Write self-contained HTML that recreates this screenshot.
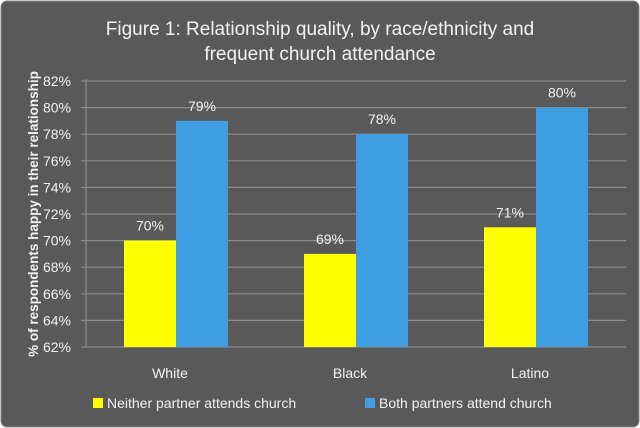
<!DOCTYPE html>
<html><head><meta charset="utf-8"><style>
body{margin:0;background:#fff;}
svg{display:block;font-family:"Liberation Sans",sans-serif;}
</style></head><body>
<svg id="chart" width="640" height="428">
<rect x="1" y="1" width="638" height="426" rx="6" fill="#595959" stroke="#8a8a8a"/>
<text x="320" y="35" text-anchor="middle" font-size="19" fill="#f2f2f2">Figure 1: Relationship quality, by race/ethnicity and</text>
<text x="320" y="60" text-anchor="middle" font-size="19" fill="#f2f2f2">frequent church attendance</text>
<text transform="translate(38,214) rotate(-90)" text-anchor="middle" font-size="13.5" font-weight="bold" fill="#f2f2f2">% of respondents happy in their relationship</text>
<g id="grid"></g><g id="bars"></g><g id="labels"></g>
<g>
<rect x="93" y="398" width="10" height="10" fill="#ffff00"/>
<text x="107" y="408" font-size="14" fill="#f2f2f2">Neither partner attends church</text>
<rect x="365" y="398" width="10" height="10" fill="#3f9ee2"/>
<text x="379" y="408" font-size="14" fill="#f2f2f2">Both partners attend church</text>
</g>
</svg>
<script>
const categories=["White","Black","Latino"];
const neitherValues=[70,69,71];
const bothValues=[79,78,80];
const yTicks=[62,64,66,68,70,72,74,76,78,80,82];
const NS="http://www.w3.org/2000/svg";
const plotLeft=86,plotRight=626,plotTop=81,plotBottom=347,yMin=62,yMax=82;
const yScale=v=>plotBottom-(v-yMin)/(yMax-yMin)*(plotBottom-plotTop);
const gw=(plotRight-plotLeft)/categories.length;
const cx=i=>plotLeft+gw*(i+0.5);
function mk(p,tag,a){const e=document.createElementNS(NS,tag);for(const k in a)e.setAttribute(k,a[k]);p.appendChild(e);return e;}
const grid=document.getElementById('grid'),bars=document.getElementById('bars'),labels=document.getElementById('labels');
yTicks.forEach(t=>{
 const l=mk(grid,'line',{x1:plotLeft-5,x2:plotRight,y1:yScale(t),y2:yScale(t),stroke:'#8c8c8c','stroke-width':1.2});
 
 
 const tx=mk(grid,'text',{x:plotLeft-15,y:yScale(t)+5,'text-anchor':'end','font-size':14,fill:'#f2f2f2'});
 tx.textContent=t+'%';
 
 
});
const ax=mk(grid,'line',{x1:plotLeft,x2:plotLeft,y1:plotTop-2,y2:plotBottom,stroke:'#8c8c8c','stroke-width':1.2});


const bw=52;
categories.forEach((c,i)=>{
 [[neitherValues[i],'#ffff00',-bw,'bar-neither'],[bothValues[i],'#3f9ee2',0,'bar-both']].forEach(([v,col,off,nm])=>{
  const r=mk(bars,'rect',{x:cx(i)+off,y:yScale(v),width:bw,height:plotBottom-yScale(v),fill:col});
  
  
  const t=mk(labels,'text',{x:cx(i)+off+bw/2,y:yScale(v)-10,'text-anchor':'middle','font-size':14,fill:'#f2f2f2'});
  t.textContent=v+'%';
  
  
 });
 const t=mk(labels,'text',{x:cx(i)-6,y:378,'text-anchor':'middle','font-size':14,fill:'#f2f2f2'});
 t.textContent=c;
 
 
});
</script>
</body></html>
